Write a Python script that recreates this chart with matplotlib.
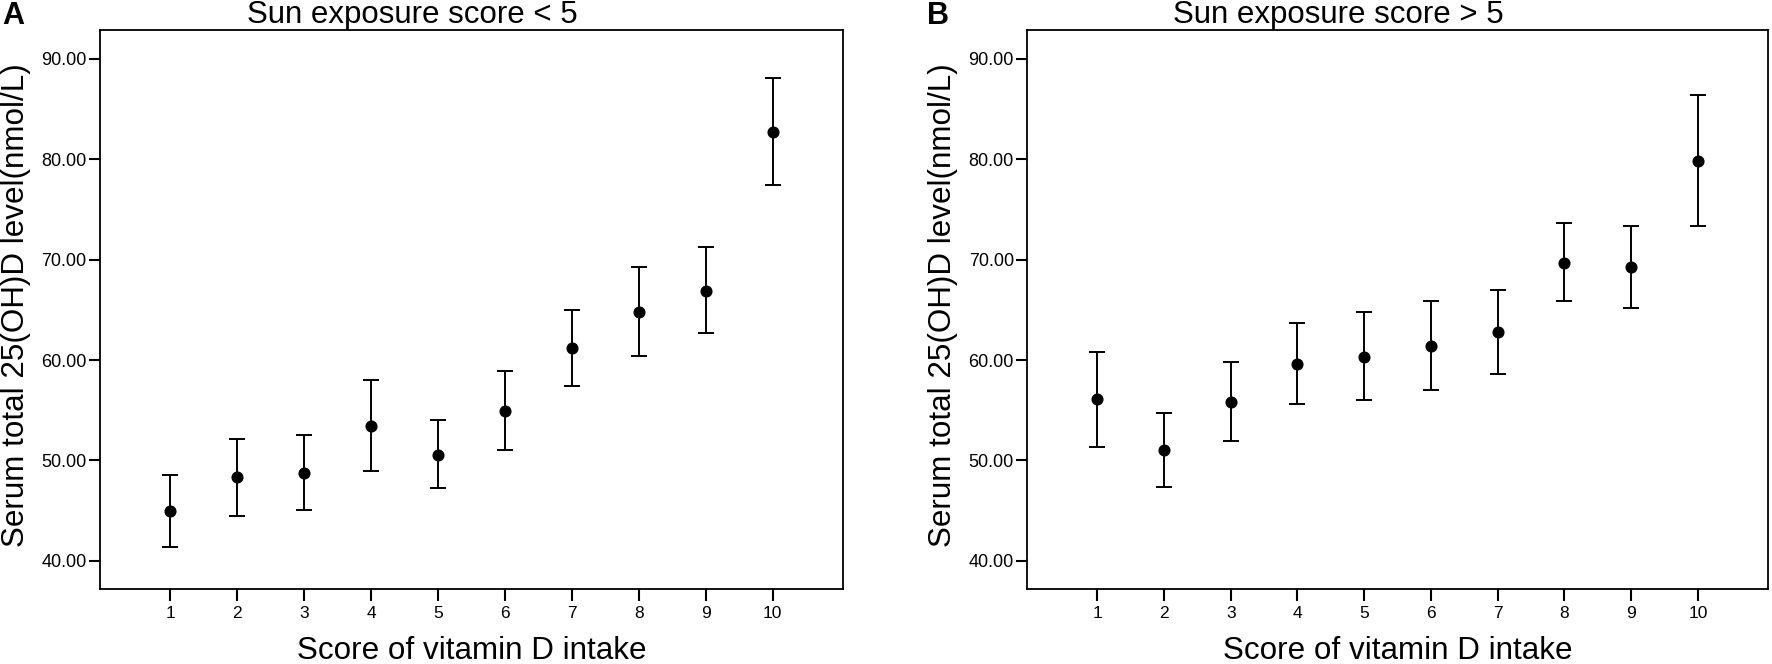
import matplotlib
matplotlib.use('Agg')
from matplotlib import pyplot as plt

plt.rcParams['font.family'] = ['Liberation Sans', 'DejaVu Sans']

# score of vitamin D intake
scores = [1, 2, 3, 4, 5, 6, 7, 8, 9, 10]
tick_labels = ['1', '2', '3', '4', '5', '6', '7', '8', '9', '10']

# A: sun exposure score < 5 (mean and 95% CI)
mean_a = [44.96, 48.32, 48.78, 53.45, 50.59, 54.96, 61.22, 64.83, 66.93, 82.77]
low_a = [41.43, 44.45, 45.04, 48.95, 47.23, 51.00, 57.39, 60.42, 62.69, 77.44]
high_a = [48.57, 52.18, 52.56, 58.03, 54.03, 58.91, 65.00, 69.29, 71.22, 88.15]

# B: sun exposure score > 5
mean_b = [56.09, 51.05, 55.84, 59.62, 60.34, 61.39, 62.82, 69.71, 69.29, 79.87]
low_b = [51.39, 47.39, 51.97, 55.63, 56.05, 57.02, 58.66, 65.84, 65.21, 73.36]
high_b = [60.84, 54.75, 59.79, 63.70, 64.79, 65.84, 67.02, 73.70, 73.36, 86.43]

yticks = [40, 50, 60, 70, 80, 90]

fig = plt.figure(figsize=(17.72, 6.64), dpi=100)
ax1 = fig.add_axes([0.0564, 0.113, 0.4193, 0.842])
ax2 = fig.add_axes([0.5796, 0.113, 0.4182, 0.842])


def draw_panel(ax, mean, low, high, title):
    yerr = [[m - l for m, l in zip(mean, low)], [h - m for m, h in zip(mean, high)]]
    ax.errorbar(scores, mean, yerr=yerr, fmt='o', color='black', ms=7.7,
                elinewidth=1.4, capsize=5.8, capthick=1.4)
    ax.set_xlim(-0.05, 11.05)
    ax.set_ylim(37.2, 92.9)
    ax.set_xticks(scores)
    ax.set_xticklabels(tick_labels, fontsize=12.5)
    ax.set_yticks(yticks)
    ax.set_yticklabels(['%.2f' % v for v in yticks], fontsize=13)
    ax.tick_params(axis='x', length=8.5, width=1.5, pad=4)
    ax.tick_params(axis='y', length=8, width=1.5, pad=1.5)
    for s in ax.spines.values():
        s.set_linewidth(1.3)
    ax.set_title(title, fontsize=22.5, x=0.42, pad=5)
    ax.set_xlabel('Score of vitamin D intake', fontsize=22.6)
    ax.xaxis.set_label_coords(0.5, -0.085)
    ax.set_ylabel('Serum total 25(OH)D level(nmol/L)', fontsize=22.6)
    ax.yaxis.set_label_coords(-0.093, 0.507)


draw_panel(ax1, mean_a, low_a, high_a, 'Sun exposure score < 5')
draw_panel(ax2, mean_b, low_b, high_b, 'Sun exposure score > 5')

fig.text(2 / 1772, 1 - 1 / 664, 'A', fontsize=22, fontweight='bold', ha='left', va='top')
fig.text(927 / 1772, 1 - 1 / 664, 'B', fontsize=22, fontweight='bold', ha='left', va='top')

plt.savefig('out.png', dpi=100)
